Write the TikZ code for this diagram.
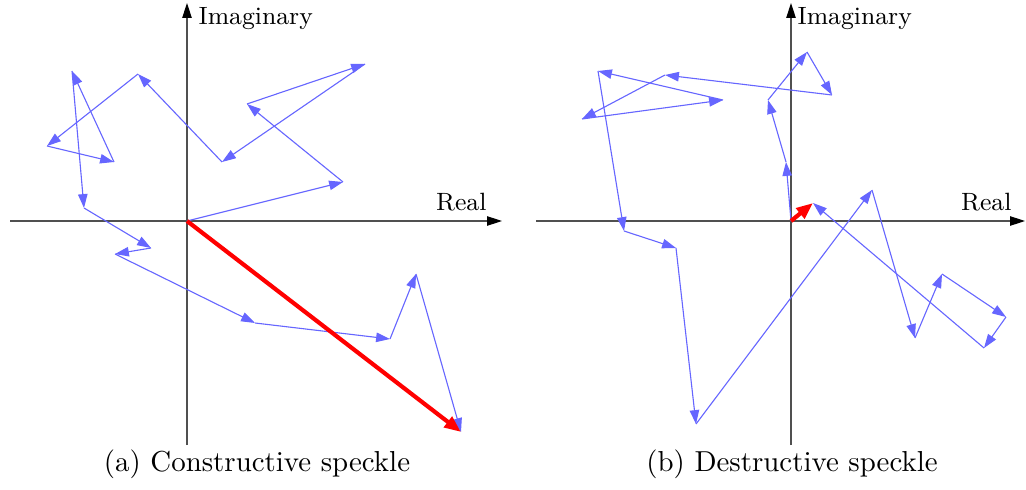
\documentclass[tikz,border=0pt]{standalone}
\usepackage{tikz}
\usetikzlibrary{arrows.meta}
\definecolor{phasor}{RGB}{102,102,255}
\definecolor{axisgray}{RGB}{80,80,80}

\begin{document}
\begin{tikzpicture}[x=0.36pt, y=-0.36pt,
    axis/.style={axisgray, line width=0.4pt, -{Triangle[length=5.4pt,width=3.4pt,black]}},
    walk/.style={phasor, line width=0.4pt, -{Triangle[length=5pt,width=3.4pt]}},
    result/.style={red, line width=1.5pt, -{Triangle[length=6pt,width=4.6pt]}},
    axlabel/.style={font=\small, inner sep=0pt},
    caption/.style={font=\fontsize{10.4}{12.5}\selectfont, inner sep=0pt, anchor=base}]
  \useasboundingbox (0,0) rectangle (1026,490);

  % (a) constructive
  \coordinate (aW) at (10,221);   \coordinate (aE) at (502,221);
  \coordinate (aS) at (187,445);  \coordinate (aN) at (187,3);
  \draw[axis] (aW) -- (aE);
  \draw[axis] (aS) -- (aN);
  \node[axlabel, anchor=base east] (realA) at (487,211) {Real};
  \node[axlabel, anchor=base west] (imagA) at (198,25) {Imaginary};

  \foreach \x/\y [count=\i from 0] in {187/221,343/182,247/104,365/64,222/162,
      138/74,47/146,114/162,72/71,84/208,151/248,115/254,255/323,390/339,
      416/274,461/432}
    \coordinate (a\i) at (\x,\y);
  \foreach \i [remember=\i as \j (initially 0)] in {1,...,15}
    \draw[walk] (a\j) -- (a\i);
  \draw[result] (a0) -- (a15);
  \node[caption] (capA) at (257,471) {(a) Constructive speckle};

  % (b) destructive
  \coordinate (bW) at (536,221);  \coordinate (bE) at (1025,221);
  \coordinate (bS) at (791,445);  \coordinate (bN) at (791,3);
  \draw[axis] (bW) -- (bE);
  \draw[axis] (bS) -- (bN);
  \node[axlabel, anchor=base east] (realB) at (1012,211) {Real};
  \node[axlabel, anchor=base west] (imagB) at (797,25) {Imaginary};

  \foreach \x/\y [count=\i from 0] in {791/221,786/162,768/100,807/52,832/95,
      665/75,582/119,723/100,598/71,624/231,676/248,696/424,872/190,
      915/338,942/274,1006/317,984/348,813/203}
    \coordinate (b\i) at (\x,\y);
  \foreach \i [remember=\i as \j (initially 0)] in {1,...,17}
    \draw[walk] (b\j) -- (b\i);
  \draw[result] (b0) -- (b17);
  \node[caption] (capB) at (792,471) {(b) Destructive speckle};
\end{tikzpicture}
\end{document}
